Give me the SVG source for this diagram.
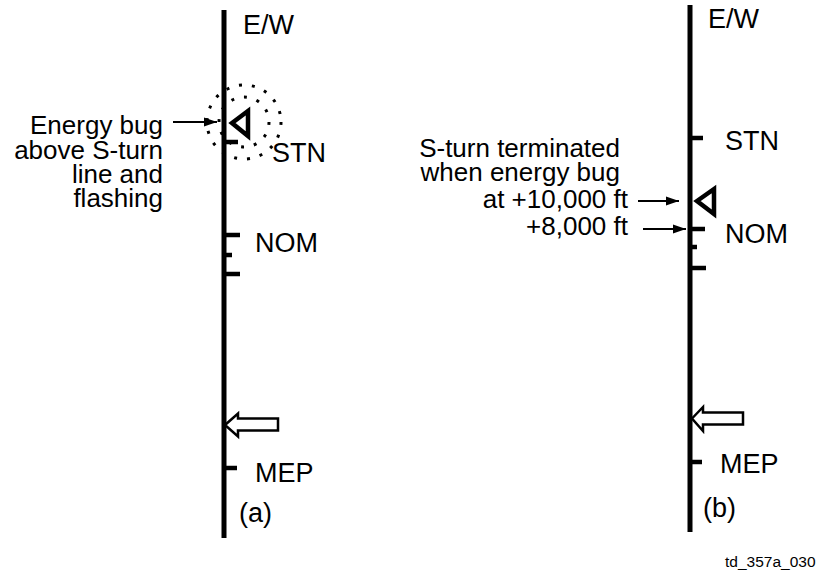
<svg xmlns="http://www.w3.org/2000/svg" width="817" height="573" viewBox="0 0 817 573">
<style>
text{font-family:"Liberation Sans",Arial,sans-serif;fill:#000}
.big{font-size:27px}
.lbl{font-size:26px;text-anchor:end}
.axis{stroke:#000;stroke-width:5;fill:none}
.tick{stroke:#000;stroke-width:4.5;fill:none}
.bug{stroke:#000;stroke-width:4.5;fill:none;stroke-linejoin:miter}
.hollow{stroke:#000;stroke-width:2.5;fill:#fff;stroke-linejoin:miter}
.dots{stroke:#000;stroke-width:3;fill:none;stroke-dasharray:3 10}
.conn{stroke:#000;stroke-width:2;fill:none}
</style>
<defs>
<marker id="ah" markerUnits="userSpaceOnUse" markerWidth="14" markerHeight="10" refX="13" refY="5" orient="auto">
<path d="M0,0.5 L13,5 L0,9.5 Z" fill="#000"/>
</marker>
</defs>

<g id="panel-a">
  <g id="a-flash">
    <circle class="dots" cx="244" cy="122" r="25"/>
    <circle class="dots" cx="244" cy="122" r="37"/>
  </g>
  <g id="a-axis">
    <line class="axis" x1="224" y1="10" x2="224" y2="538"/>
    <line class="tick" x1="224" y1="142" x2="238" y2="142"/>
    <line class="tick" x1="224" y1="235" x2="240" y2="235"/>
    <line class="tick" x1="224" y1="255" x2="232" y2="255"/>
    <line class="tick" x1="224" y1="274" x2="240" y2="274"/>
    <line class="tick" x1="224" y1="468" x2="237" y2="468"/>
  </g>
  <g id="a-bug"><polygon class="bug" points="232,123 248,111 248,136"/></g>
  <g id="a-pointer"><path class="hollow" d="M225,425 L238,413.5 L238,418.5 L278,418.5 L278,430.5 L238,430.5 L238,436.5 Z"/></g>
  <g id="a-ew"><text class="big" x="243" y="34">E/W</text></g>
  <g id="a-stn"><text class="big" x="272" y="162">STN</text></g>
  <g id="a-nom"><text class="big" x="255" y="252">NOM</text></g>
  <g id="a-mep"><text class="big" x="255" y="482">MEP</text></g>
  <g id="a-cap"><text class="big" x="239" y="522">(a)</text></g>
  <g id="a-note">
    <text class="lbl" x="163" y="134">Energy bug</text>
    <text class="lbl" x="163" y="159">above S-turn</text>
    <text class="lbl" x="163" y="183">line and</text>
    <text class="lbl" x="163" y="207">flashing</text>
  </g>
</g>

<g id="panel-b">
  <g id="b-axis">
    <line class="axis" x1="690" y1="5" x2="690" y2="532"/>
    <line class="tick" x1="690" y1="138" x2="703" y2="138"/>
    <line class="tick" x1="690" y1="229" x2="705" y2="229"/>
    <line class="tick" x1="690" y1="247" x2="697" y2="247"/>
    <line class="tick" x1="690" y1="268" x2="706" y2="268"/>
    <line class="tick" x1="690" y1="462" x2="702" y2="462"/>
  </g>
  <g id="b-bug"><polygon class="bug" points="697,201 714,189 714,214"/></g>
  <g id="b-pointer"><path class="hollow" d="M692,418.5 L703,407 L703,412.5 L743,412.5 L743,424.5 L703,424.5 L703,431 Z"/></g>
  <g id="b-ew"><text class="big" x="708" y="28">E/W</text></g>
  <g id="b-stn"><text class="big" x="725" y="150">STN</text></g>
  <g id="b-nom"><text class="big" x="725" y="243">NOM</text></g>
  <g id="b-mep"><text class="big" x="720" y="473">MEP</text></g>
  <g id="b-cap"><text class="big" x="703" y="517">(b)</text></g>
  <g id="b-note">
    <text class="lbl" x="620" y="157">S-turn terminated</text>
    <text class="lbl" x="620" y="181">when energy bug</text>
    <text class="lbl" x="628" y="208">at +10,000 ft</text>
    <text class="lbl" x="628" y="235">+8,000 ft</text>
  </g>
</g>

<g id="connectors">
  <line class="conn" x1="173" y1="122" x2="217" y2="122" marker-end="url(#ah)"/>
  <line class="conn" x1="638" y1="201" x2="679" y2="201" marker-end="url(#ah)"/>
  <line class="conn" x1="643" y1="229" x2="686" y2="229" marker-end="url(#ah)"/>
</g>

<g id="footer"><text x="725" y="567" style="font-size:15.5px">td_357a_030</text></g>
</svg>
